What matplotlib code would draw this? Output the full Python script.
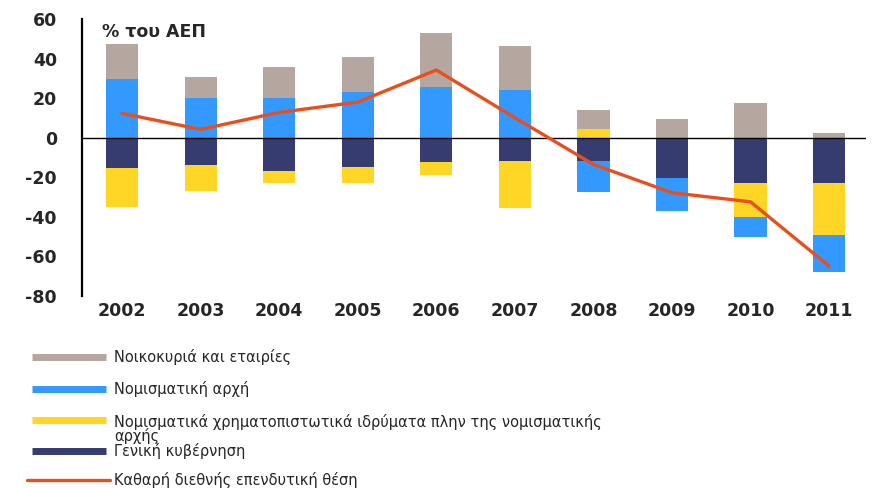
import numpy as np
import matplotlib
matplotlib.use("Agg")
import matplotlib.pyplot as plt
from matplotlib.lines import Line2D

plt.rcParams['font.family'] = ['DejaVu Sans']
plt.rcParams['axes.unicode_minus'] = False

# data, % of GDP
years = ['2002', '2003', '2004', '2005', '2006', '2007', '2008', '2009', '2010', '2011']
households = [17.4, 10.7, 16.0, 17.8, 27.3, 22.3, 9.6, 9.6, 17.7, 2.2]
monetary_auth = [29.8, 19.9, 19.9, 22.9, 25.8, 23.9, -15.9, -16.5, -10.3, -18.5]
mfis = [-19.7, -13.2, -6.2, -8.1, -6.6, -23.9, 4.2, 0.0, -17.3, -26.3]
general_gov = [-15.2, -13.8, -16.9, -14.7, -12.3, -11.8, -11.6, -20.6, -22.8, -23.1]
net_iip = [12.3, 4.2, 12.8, 18.0, 34.2, 10.1, -13.5, -27.8, -32.4, -64.9]

labels = ['Νοικοκυριά και εταιρίες',
          'Νομισματική αρχή',
          'Νομισματικά χρηματοπιστωτικά ιδρύματα πλην της νομισματικής\nαρχής',
          'Γενική κυβέρνηση',
          'Καθαρή διεθνής επενδυτική θέση']

c_gray = '#b5a79f'
c_blue = '#3399ff'
c_yellow = '#ffd526'
c_navy = '#363b70'
c_orange = '#e84f1c'
txt = '#262626'

series = {'hh': (households, c_gray), 'ma': (monetary_auth, c_blue),
          'mfi': (mfis, c_yellow), 'gg': (general_gov, c_navy)}
pos_order = ['ma', 'mfi', 'hh']
neg_order = ['gg', 'mfi', 'ma']

fig = plt.figure(figsize=(8.76, 4.88), dpi=100)
ax = fig.add_axes([82/876, 1-296/488, (866-82)/876, (296-19)/488])

x = np.arange(len(years))
w = 0.41
pos_base = np.zeros(len(years))
neg_base = np.zeros(len(years))
for key in pos_order:
    vals, col = series[key]
    v = np.clip(np.array(vals), 0, None)
    ax.bar(x, v, w, bottom=pos_base, color=col, linewidth=0)
    pos_base += v
for key in neg_order:
    vals, col = series[key]
    v = np.clip(np.array(vals), None, 0)
    ax.bar(x, v, w, bottom=neg_base, color=col, linewidth=0)
    neg_base += v

ax.axhline(0, color='black', lw=1.0, zorder=3)
ax.plot(x, net_iip, color=c_orange, lw=2.4, zorder=4, solid_capstyle='round')

ax.set_xlim(-0.51, 9.47)
ax.set_ylim(-80, 60)
ax.set_yticks(range(-80, 61, 20))
ax.set_xticks(x)
ax.set_xticklabels(years)
for s in ['top', 'right', 'bottom']:
    ax.spines[s].set_visible(False)
ax.spines['left'].set_linewidth(1.6)
ax.tick_params(axis='both', length=0, labelcolor=txt)
ax.tick_params(axis='y', pad=18, labelsize=12.5)
ax.tick_params(axis='x', pad=4, labelsize=12.5)
for lab in ax.get_xticklabels() + ax.get_yticklabels():
    lab.set_fontweight('bold')

ax.text(0.026, 0.952, '% του ΑΕΠ', transform=ax.transAxes, fontsize=12.5,
        fontweight='bold', color=txt, va='center', ha='left')

# legend drawn by hand to keep the irregular spacing
leg_y = [357, 389, 420, 451, 480]
leg_cols = [c_gray, c_blue, c_yellow, c_navy, c_orange]
for i in range(5):
    yf = 1 - leg_y[i]/488
    if i < 4:
        fig.add_artist(Line2D([32/876, 106/876], [yf, yf], transform=fig.transFigure,
                              color=leg_cols[i], lw=5, solid_capstyle='butt'))
    else:
        fig.add_artist(Line2D([27/876, 110/876], [yf, yf], transform=fig.transFigure,
                              color=leg_cols[i], lw=2.4, solid_capstyle='round'))
    if i == 2:
        fig.text(114/876, 1 - 414/488, labels[i], fontsize=10.5, color=txt,
                 va='top', ha='left', linespacing=0.85)
    else:
        fig.text(114/876, yf, labels[i], fontsize=10.5, color=txt, va='center', ha='left')

fig.savefig('out.png', dpi=100)
